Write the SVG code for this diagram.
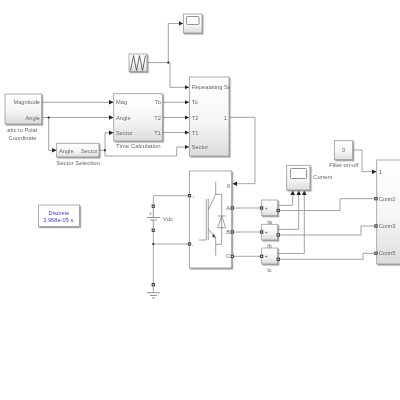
<svg xmlns="http://www.w3.org/2000/svg" width="400" height="400" viewBox="0 0 400 400">
<style>
text{font-family:"Liberation Sans",Arial,sans-serif;font-size:5.7px;fill:#666}
.e{text-anchor:end}.m{text-anchor:middle}
.b{fill:url(#g);stroke:#9a9a9a;stroke-width:.8;filter:url(#s)}
.f{fill:#fff;stroke:#9a9a9a;stroke-width:.8;filter:url(#s)}
.c path{fill:none;stroke:#8c8c8c;stroke-width:.8}
.c .a{marker-end:url(#ar)}
.j{fill:#222}
.p{fill:#ccc;stroke:#222;stroke-width:.8}
.i path,.i polygon{fill:none;stroke:#777;stroke-width:.7}
</style>
<defs>
<linearGradient id="g" x1="0" y1="0" x2="0" y2="1"><stop offset="0" stop-color="#fff"/><stop offset=".55" stop-color="#f6f6f6"/><stop offset="1" stop-color="#dcdcdc"/></linearGradient>
<filter id="s" x="-15%" y="-15%" width="135%" height="135%"><feDropShadow dx="1.2" dy="1.2" stdDeviation=".7" flood-color="#777" flood-opacity=".7"/></filter>
<filter id="soft" x="0" y="0" width="400" height="400" filterUnits="userSpaceOnUse"><feGaussianBlur stdDeviation=".3"/></filter>
<clipPath id="clipR"><rect x="189" y="77" width="40.500" height="79"/></clipPath>
<marker id="ar" markerUnits="userSpaceOnUse" markerWidth="5" markerHeight="5" refX="4.500" refY="2.500" orient="auto"><path d="M0 .2L4.500 2.500L0 4.800z" fill="#222"/></marker>
</defs>
<g filter="url(#soft)">
<g id="connectors" class="c">
<path class="a" d="M147 62.600H168.300V23.400H183"/>
<path class="a" d="M168.300 62.600H170V87.300H189"/>
<path class="a" d="M41.700 102.300H113.500"/>
<path class="a" d="M41.700 117.500H113.500"/>
<path class="a" d="M48.700 117.500V150.300H56.500"/>
<path class="a" d="M99 150.300H105V132.700H113.500"/>
<path class="a" d="M105 150.300V156H176.700V147H189"/>
<path class="a" d="M162.300 102.300H189"/>
<path class="a" d="M162.300 117.500H189"/>
<path class="a" d="M162.300 132.500H189"/>
<path class="a" d="M229 117.300H255V183.700H232.500"/>
<path d="M189.500 195.700H153.300V206"/>
<path d="M153.300 230V284.700"/>
<path d="M153.300 244H189.500"/>
<path d="M153.300 284.700V292.700"/>
<path d="M232 208H261.700"/>
<path d="M232 232H261.700"/>
<path d="M232 256.300H261.700"/>
<path class="a" d="M277.700 205.300H292.700V190.500"/>
<path class="a" d="M277.700 229.300H298.700V190.500"/>
<path class="a" d="M277.700 253.500H304.300V190.500"/>
<path d="M277.700 210.500H340V198.700H376"/>
<path d="M277.700 235H361V226H376"/>
<path d="M277.700 259.300H363V253.300H376"/>
<path class="a" d="M352.700 150H362V171.700H376.500"/>
<circle class="j" cx="168.300" cy="62.600" r="1.100"/>
<circle class="j" cx="48.700" cy="117.500" r="1.100"/>
<circle class="j" cx="105" cy="150.300" r="1.100"/>
<circle class="j" cx="153.300" cy="244" r="1.100"/>
</g>
<g id="scope-top"><rect class="b" x="183.500" y="14" width="18.500" height="19"/><rect x="186.500" y="16.500" width="12.500" height="8" rx="1" fill="#fff" stroke="#777" stroke-width=".8"/></g>
<g id="repeating-sequence"><rect class="b" x="129" y="54" width="18" height="17.500"/><path d="M130.500 70.500L133.500 55.500L136.500 70.500L139.500 55.500L142.500 70.500L145.500 55.500" fill="none" stroke="#444" stroke-width=".8"/></g>
<g id="abc-to-polar"><rect class="b" x="5" y="94" width="36.700" height="30"/><text class="e" x="40" y="104.300">Magnitude</text><text class="e" x="40" y="119.500">Angle</text><text class="m" x="22.500" y="132.300">abc to Polar</text><text class="m" x="22.500" y="140">Coordinate</text></g>
<g id="time-calculation"><rect class="b" x="113.700" y="93.700" width="48.600" height="47.300"/><text x="116" y="104.300">Mag</text><text x="116" y="119.500">Angle</text><text x="116" y="134.700">Sector</text><text class="e" x="161" y="104.300">To</text><text class="e" x="161" y="119.500">T2</text><text class="e" x="161" y="134.700">T1</text><text class="m" x="138.300" y="148" style="font-size:6px">Time Calculation</text></g>
<g id="sector-selection"><rect class="b" x="56.700" y="143.300" width="42.300" height="13.700"/><text x="59" y="153">Angle</text><text class="e" x="97.500" y="153">Sector</text><text class="m" x="78" y="165" style="font-size:6px">Sector Selection</text></g>
<g id="modulator"><rect class="b" x="189.500" y="77" width="39.500" height="79"/><text x="191.700" y="89.300" clip-path="url(#clipR)">Repeatating Sequence</text><text x="191.700" y="104.300">To</text><text x="191.700" y="119.500">T2</text><text x="191.700" y="134.500">T1</text><text x="191.700" y="149.300">Sector</text><text class="e" x="227" y="119.500">1</text></g>
<g id="inverter"><rect class="f" x="189.500" y="171" width="42.200" height="97"/>
<g class="i"><path d="M215.700 181.700V194.300L208.300 210M206.300 199V240M208.300 199V240M199 240H206.300M208.300 229L215.700 238V255.600M215.700 194.300H221.700V244.300H215.700"/><polygon points="221.700,216 217.700,227.700 225.700,227.700" fill="#fff"/><path d="M217.700 216H225.700"/></g>
<path d="M215.700 238L212 236.500L214 233.500z" fill="#444"/>
<text x="192.500" y="197.500" style="font-size:4px">+</text><text x="192.500" y="246" style="font-size:4px">-</text>
<text class="e" x="230" y="186.500" style="fill:#5555b0">g</text><text class="e" x="230" y="210">A</text><text class="e" x="230" y="234">B</text><text class="e" x="230" y="258.300">C</text>
<rect class="p" x="188.300" y="194.500" width="2.400" height="2.400"/><rect class="p" x="188.300" y="242.800" width="2.400" height="2.400"/><rect class="p" x="231" y="206.800" width="2.400" height="2.400"/><rect class="p" x="231" y="230.800" width="2.400" height="2.400"/><rect class="p" x="231" y="255.100" width="2.400" height="2.400"/></g>
<g id="vdc"><rect class="p" x="152.100" y="205" width="2.400" height="2.400"/><rect class="p" x="152.100" y="229" width="2.400" height="2.400"/><path d="M153.300 207.500V217M147 217.500H160M150 220H157M153.300 220V229" fill="none" stroke="#777" stroke-width=".8"/><text x="149" y="215" style="font-size:5px">+</text><text x="163" y="220.500">Vdc</text></g>
<g id="ground"><rect class="p" x="152.100" y="283.500" width="2.400" height="2.400"/><path d="M147 292.700H160M150 295.500H157M152 298H155" fill="none" stroke="#777" stroke-width=".8"/></g>
<g id="ia"><rect class="b" x="261.700" y="200" width="16" height="15.700"/><text x="264.500" y="210">+</text><text class="m" x="269.500" y="223.500">Ia</text><rect class="p" x="260.500" y="206.800" width="2.400" height="2.400"/><rect class="p" x="277" y="209.300" width="2.400" height="2.400"/></g>
<g id="ib"><rect class="b" x="261.700" y="224.300" width="16" height="15.700"/><text x="264.500" y="234">+</text><text class="m" x="269.500" y="247.500">Ib</text><rect class="p" x="260.500" y="230.800" width="2.400" height="2.400"/><rect class="p" x="277" y="233.800" width="2.400" height="2.400"/></g>
<g id="ic"><rect class="b" x="261.700" y="248" width="16" height="16"/><text x="264.500" y="258.300">+</text><text class="m" x="269.500" y="271.500">Ic</text><rect class="p" x="260.500" y="255.100" width="2.400" height="2.400"/><rect class="p" x="277" y="258.100" width="2.400" height="2.400"/></g>
<g id="scope-current"><rect class="b" x="286.700" y="165.300" width="23.300" height="24.700"/><rect x="290.500" y="168.500" width="16" height="10" rx="1" fill="#fff" stroke="#777" stroke-width=".8"/><text x="313.300" y="179.300">Current</text></g>
<g id="filter-constant"><rect class="b" x="334.300" y="140.700" width="18.400" height="19"/><text class="m" x="343.500" y="152">0</text><text class="m" x="343.800" y="167">Filter-on-off</text></g>
<g id="filter"><rect class="b" x="376.700" y="160" width="30" height="104"/><text x="379" y="173.700">1</text><text x="378.700" y="200.800">Conn2</text><text x="378.700" y="228">Conn3</text><text x="378.700" y="255.300">Conn5</text><rect class="p" x="374.800" y="197.500" width="2.400" height="2.400"/><rect class="p" x="374.800" y="224.800" width="2.400" height="2.400"/><rect class="p" x="374.800" y="252.100" width="2.400" height="2.400"/></g>
<g id="powergui"><rect class="f" x="38.500" y="205" width="41" height="21.500"/><text class="m" x="59" y="214.500" style="fill:#4545c8">Discrete</text><text class="m" x="59" y="221.500" style="fill:#4545c8">3.968e-05 s.</text></g>
</g>
</svg>
